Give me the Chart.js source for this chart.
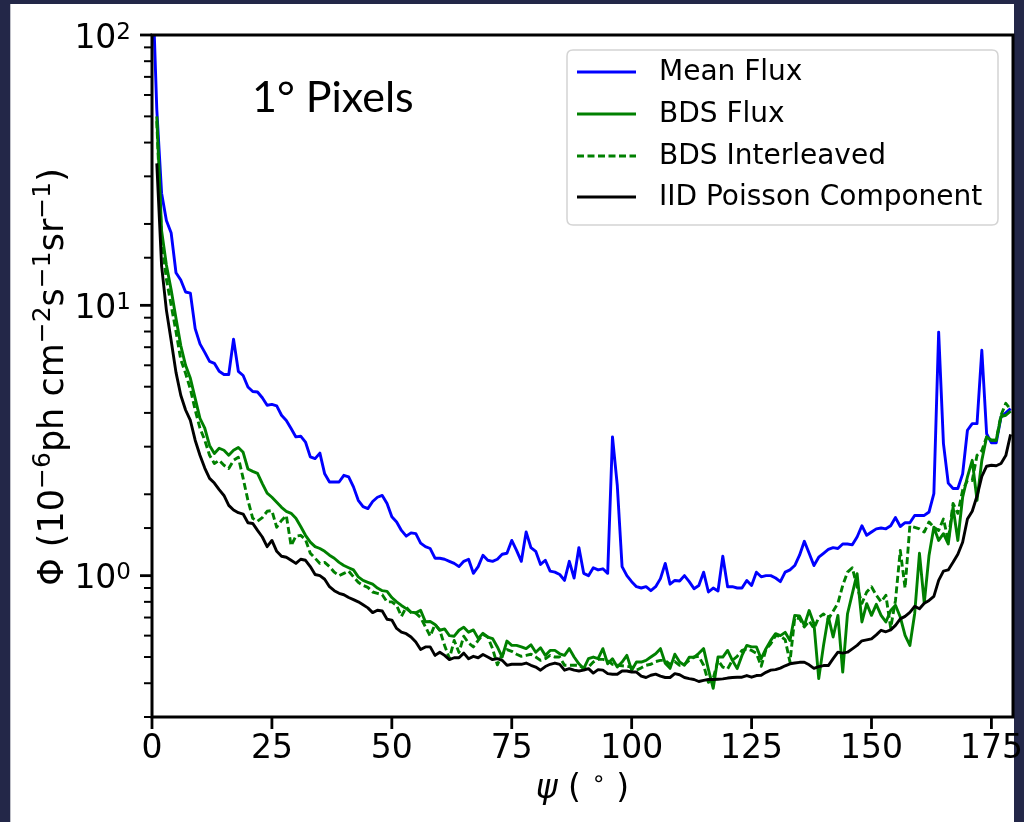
<!DOCTYPE html>
<html><head><meta charset="utf-8">
<script src="https://cdn.jsdelivr.net/npm/chart.js@4.4.1/dist/chart.umd.min.js"></script>
<style>
html,body{margin:0;padding:0;background:#232748;overflow:hidden}
#wrap{position:absolute;left:0;top:0;width:1024px;height:822px}
canvas{display:block}
</style></head><body>
<div id="wrap"><canvas id="c" width="1024" height="822"></canvas></div>
<script>
// psi (degrees), 1° pixels
const psi = [0,1,2,3,4,5,6,7,8,9,10,11,12,13,14,15,16,17,18,19,20,21,22,23,24,25,26,27,28,29,30,31,32,33,34,35,36,37,38,39,40,41,42,43,44,45,46,47,48,49,50,51,52,53,54,55,56,57,58,59,60,61,62,63,64,65,66,67,68,69,70,71,72,73,74,75,76,77,78,79,80,81,82,83,84,85,86,87,88,89,90,91,92,93,94,95,96,97,98,99,100,101,102,103,104,105,106,107,108,109,110,111,112,113,114,115,116,117,118,119,120,121,122,123,124,125,126,127,128,129,130,131,132,133,134,135,136,137,138,139,140,141,142,143,144,145,146,147,148,149,150,151,152,153,154,155,156,157,158,159,160,161,162,163,164,165,166,167,168,169,170,171,172,173,174,175,176,177,178,179];

const meanFlux = [180,53,26,20.6,18.5,13.2,12.4,11.2,11.1,8.2,
7.2,6.7,6.2,6.1,5.7,5.55,5.55,7.5,5.7,5.5,
4.99,4.8,4.78,4.55,4.27,4.3,4.25,3.92,3.75,3.5,
3.26,3.28,3.12,2.75,2.71,2.84,2.38,2.22,2.22,2.22,
2.35,2.32,2.13,1.9,1.8,1.77,1.88,1.95,1.98,1.85,
1.65,1.58,1.47,1.40,1.44,1.43,1.32,1.28,1.26,1.16,
1.16,1.15,1.13,1.11,1.08,1.13,1.15,1.02,1.08,1.19,
1.14,1.13,1.15,1.20,1.21,1.35,1.24,1.13,1.45,1.27,
1.23,1.10,1.14,1.04,1.03,1.01,0.96,1.13,0.98,1.27,
1.02,1.0,1.07,1.05,1.06,1.02,3.26,2.16,1.08,1.0,
0.95,0.91,0.90,0.91,0.88,0.91,0.975,1.11,0.93,0.96,
0.955,1.0,0.95,0.895,0.92,1.03,0.87,0.90,0.877,1.18,
0.91,0.91,0.90,0.90,0.96,0.92,1.03,0.99,1.0,1.0,
0.98,0.95,1.03,1.05,1.09,1.19,1.34,1.21,1.09,1.17,
1.21,1.25,1.27,1.26,1.31,1.31,1.30,1.39,1.53,1.41,
1.45,1.49,1.50,1.49,1.53,1.64,1.52,1.57,1.57,1.67,
1.67,1.67,1.72,2.01,7.96,3.08,2.20,2.10,2.10,2.38,
3.45,3.65,3.65,6.82,3.35,3.10,3.10,3.86,4.0,4.15];

const bdsFlux = [null,50,18.9,14.1,11.4,8.95,7.1,6.0,5.37,4.53,
3.82,3.51,3.03,2.83,2.96,2.91,2.79,2.91,2.98,2.86,
2.48,2.43,2.39,2.19,2.02,1.95,1.87,1.79,1.73,1.70,
1.63,1.52,1.41,1.33,1.28,1.26,1.23,1.19,1.16,1.12,
1.09,1.07,1.05,0.99,0.96,0.945,0.93,0.90,0.88,0.875,
0.83,0.80,0.776,0.755,0.733,0.729,0.744,0.675,0.677,0.66,
0.628,0.635,0.60,0.597,0.628,0.645,0.618,0.63,0.586,0.612,
0.593,0.585,0.545,0.50,0.573,0.552,0.552,0.545,0.537,0.555,
0.521,0.541,0.507,0.529,0.529,0.514,0.507,0.537,0.50,0.472,
0.453,0.493,0.50,0.493,0.537,0.472,0.493,0.459,0.479,0.507,
0.447,0.479,0.479,0.486,0.50,0.514,0.537,0.474,0.454,0.512,
0.479,0.466,0.499,0.499,0.516,0.537,0.45,0.383,0.50,0.50,
0.529,0.486,0.453,0.507,0.552,0.545,0.545,0.493,0.537,0.576,
0.61,0.60,0.617,0.576,0.713,0.71,0.655,0.743,0.664,0.416,
0.552,0.706,0.593,0.713,0.44,0.723,0.858,1.017,0.674,0.788,
0.713,0.783,0.713,0.674,0.743,0.777,0.703,0.601,0.552,0.723,
1.21,0.792,1.19,1.51,1.35,1.43,1.31,1.79,1.35,1.95,
2.32,2.67,1.90,2.67,3.26,3.17,3.17,3.88,3.92,4.06];

const bdsInterleaved = [null,48,17.5,12.5,10.0,8.0,6.3,5.6,4.9,4.1,
3.51,3.17,2.79,2.6,2.67,2.56,2.49,2.67,2.74,2.29,
1.90,1.63,1.59,1.64,1.73,1.74,1.51,1.60,1.67,1.29,
1.40,1.41,1.36,1.21,1.16,1.11,1.12,1.08,1.03,1.0,
1.02,1.04,0.99,0.945,0.92,0.905,0.87,0.86,0.85,0.80,
0.80,0.776,0.707,0.764,0.731,0.727,0.70,0.647,0.597,0.66,
0.628,0.552,0.494,0.576,0.52,0.597,0.563,0.545,0.576,0.606,
0.593,0.537,0.468,0.512,0.533,0.525,0.512,0.503,0.507,0.512,
0.50,0.486,0.493,0.507,0.50,0.50,0.466,0.466,0.466,0.466,
0.454,0.459,0.479,0.49,0.49,0.486,0.47,0.466,0.464,0.462,
0.459,0.447,0.456,0.466,0.47,0.481,0.486,0.486,0.47,0.481,
0.466,0.47,0.486,0.50,0.503,0.466,0.403,0.416,0.486,0.459,
0.452,0.486,0.503,0.529,0.536,0.529,0.516,0.462,0.533,0.56,
0.60,0.597,0.58,0.479,0.70,0.694,0.646,0.68,0.638,0.70,
0.722,0.69,0.738,0.79,0.92,1.03,1.07,0.91,0.79,0.87,
0.91,0.846,0.80,0.846,0.64,0.81,1.24,0.9,1.53,1.51,
1.49,1.45,1.58,1.51,1.47,1.62,1.35,1.85,1.70,2.07,
2.25,2.25,2.79,2.9,3.26,3.17,3.17,3.92,4.34,4.12];

const iidPoisson = [null,33.5,14.0,9.6,7.4,5.65,4.65,4.1,3.75,3.17,
2.79,2.5,2.29,2.2,2.08,1.98,1.82,1.75,1.71,1.69,
1.57,1.56,1.47,1.39,1.28,1.35,1.23,1.18,1.17,1.14,
1.11,1.15,1.14,1.08,1.01,1.0,0.97,0.91,0.88,0.86,
0.85,0.83,0.815,0.80,0.78,0.76,0.73,0.745,0.74,0.69,
0.685,0.638,0.618,0.61,0.593,0.568,0.533,0.545,0.545,0.507,
0.521,0.507,0.489,0.497,0.497,0.517,0.493,0.503,0.497,0.511,
0.50,0.489,0.493,0.486,0.466,0.47,0.47,0.47,0.475,0.466,
0.459,0.447,0.461,0.47,0.475,0.47,0.447,0.453,0.447,0.444,
0.447,0.453,0.436,0.449,0.447,0.434,0.432,0.432,0.444,0.444,
0.44,0.44,0.425,0.42,0.428,0.432,0.425,0.42,0.42,0.434,
0.43,0.42,0.416,0.413,0.406,0.41,0.413,0.413,0.414,0.415,
0.418,0.42,0.421,0.421,0.427,0.421,0.427,0.428,0.439,0.447,
0.449,0.455,0.464,0.472,0.475,0.478,0.478,0.468,0.454,0.461,
0.465,0.465,0.493,0.521,0.517,0.521,0.536,0.552,0.574,0.579,
0.584,0.604,0.628,0.62,0.63,0.655,0.692,0.707,0.731,0.77,
0.754,0.79,0.81,0.838,0.96,1.04,1.05,1.12,1.2,1.33,
1.62,1.73,1.97,2.33,2.54,2.56,2.55,2.6,2.78,3.33];

const xTicks = [0,25,50,75,100,125,150,175];
const yMajorExp = {1:'0', 10:'1', 100:'2'};
const seriesNames = ['Mean Flux','BDS Flux','BDS Interleaved','IID Poisson Component'];
const annotationText = '1\u00b0 Pixels';
// rich-text titles: [text, superscript?, italic?]
const xTitleParts = [['\u03c8',false,true],[' ( ',false,false],['\u2218',true,false],[' )',false,false]];
const yTitleParts = [['\u03a6 (10',false,false],['\u22126',true,false],['ph cm',false,false],['\u22122',true,false],['s',false,false],['\u22121',true,false],['sr',false,false],['\u22121',true,false],[')',false,false]];

function pts(arr){ return psi.map((x,i)=>({x:x,y:arr[i]})); }
function isMajor(v){ const l=Math.log10(v); return Math.abs(l-Math.round(l))<1e-9; }

const FAM='"DejaVu Sans"';
function fontFor(p,base,sup){ return (p[2]?'italic ':'')+(p[1]?sup:base)+'px '+FAM; }
function richWidth(ctx,parts,base,sup){
  let w=0; parts.forEach(p=>{ctx.font=fontFor(p,base,sup); w+=ctx.measureText(p[0]).width;}); return w;
}
function drawRich(ctx,parts,x,y,base,sup,raise){
  let cx=x;
  parts.forEach(p=>{ctx.font=fontFor(p,base,sup); ctx.fillText(p[0],cx,p[1]?y-raise:y); cx+=ctx.measureText(p[0]).width;});
}

const framePlugin = {
  id:'frame',
  beforeDraw(chart){
    const ctx=chart.ctx;
    ctx.save();
    ctx.fillStyle='#232748'; ctx.fillRect(0,0,1024,822);
    ctx.fillStyle='#ffffff'; ctx.fillRect(11,4,1003,818);
    ctx.strokeStyle='#bfc0c8'; ctx.lineWidth=1;
    ctx.beginPath(); ctx.moveTo(10.5,4); ctx.lineTo(10.5,822); ctx.stroke();
    ctx.restore();
  },
  afterDraw(chart){
    const ctx=chart.ctx, a=chart.chartArea;
    const xs=chart.scales.x, ys=chart.scales.y;
    ctx.save();
    ctx.strokeStyle='#000'; ctx.fillStyle='#000';
    ctx.textBaseline='alphabetic';
    // y ticks + labels
    ys.ticks.forEach(t=>{
      const p=ys.getPixelForValue(t.value);
      if(p<a.top-1||p>a.bottom+1) return;
      const maj=isMajor(t.value);
      ctx.lineWidth=maj?2.8:2;
      ctx.beginPath(); ctx.moveTo(a.left-(maj?12:8),p); ctx.lineTo(a.left,p); ctx.stroke();
      const e=yMajorExp[Math.round(t.value)];
      if(maj && e!==undefined){
        ctx.font='23px '+FAM; const ws=ctx.measureText(e).width;
        ctx.font='33px '+FAM; const wb=ctx.measureText('10').width;
        const right=131;
        ctx.textAlign='left';
        ctx.fillText('10',right-ws-wb,p+12.5);
        ctx.font='23px '+FAM;
        ctx.fillText(e,right-ws,p+12.5-9);
      }
    });
    // x ticks + labels
    ctx.textAlign='center';
    xs.ticks.forEach(t=>{
      const p=xs.getPixelForValue(t.value);
      ctx.lineWidth=2.8;
      ctx.beginPath(); ctx.moveTo(p,a.bottom); ctx.lineTo(p,a.bottom+12); ctx.stroke();
      ctx.font='33px '+FAM;
      ctx.fillText(String(t.value),p,758);
    });
    // spines
    ctx.lineWidth=3;
    ctx.strokeRect(a.left,a.top,a.right-a.left,a.bottom-a.top);
    // axis titles
    ctx.textAlign='left';
    const xw=richWidth(ctx,xTitleParts,33,23);
    drawRich(ctx,xTitleParts,(a.left+a.right)/2-xw/2,798,33,23,12);
    ctx.save();
    ctx.translate(63,(a.top+a.bottom)/2+1); ctx.rotate(-Math.PI/2);
    const yw=richWidth(ctx,yTitleParts,35,25);
    drawRich(ctx,yTitleParts,-yw/2,0,35,25,13);
    ctx.restore();
    // annotation
    ctx.font='43px Lato';
    ctx.fillText(annotationText,252,112);
    // legend
    const lx=567, ly=50, lw=431, lh=175, r=6;
    ctx.beginPath();
    ctx.moveTo(lx+r,ly); ctx.lineTo(lx+lw-r,ly); ctx.quadraticCurveTo(lx+lw,ly,lx+lw,ly+r);
    ctx.lineTo(lx+lw,ly+lh-r); ctx.quadraticCurveTo(lx+lw,ly+lh,lx+lw-r,ly+lh);
    ctx.lineTo(lx+r,ly+lh); ctx.quadraticCurveTo(lx,ly+lh,lx,ly+lh-r);
    ctx.lineTo(lx,ly+r); ctx.quadraticCurveTo(lx,ly,lx+r,ly); ctx.closePath();
    ctx.fillStyle='rgba(255,255,255,0.85)'; ctx.fill();
    ctx.strokeStyle='#d4d4d4'; ctx.lineWidth=1.5; ctx.stroke();
    const rows=[72,114,156,197];
    ctx.font='28px '+FAM; ctx.textBaseline='middle';
    chart.data.datasets.forEach((ds,i)=>{
      const y=rows[i];
      ctx.strokeStyle=ds.borderColor; ctx.lineWidth=ds.borderWidth;
      ctx.setLineDash(ds.borderDash||[]);
      ctx.beginPath(); ctx.moveTo(577,y); ctx.lineTo(636,y); ctx.stroke();
      ctx.setLineDash([]);
      ctx.fillStyle='#000';
      ctx.fillText(ds.label,659,y+1);
    });
    ctx.restore();
  }
};

const gridOpts = {display:false};

new Chart(document.getElementById('c'),{
  type:'line',
  data:{datasets:[
    {label:seriesNames[0],data:pts(meanFlux),borderColor:'#0000ff',borderWidth:2.9,order:4},
    {label:seriesNames[1],data:pts(bdsFlux),borderColor:'#008000',borderWidth:2.9,order:3},
    {label:seriesNames[2],data:pts(bdsInterleaved),borderColor:'#008000',borderWidth:2.9,borderDash:[7,3.5],order:2},
    {label:seriesNames[3],data:pts(iidPoisson),borderColor:'#000000',borderWidth:2.9,order:1}
  ]},
  options:{
    responsive:false,devicePixelRatio:1,animation:false,
    layout:{padding:{left:0,top:35,right:11,bottom:0}},
    elements:{point:{radius:0},line:{tension:0,fill:false,borderCapStyle:'butt',borderJoinStyle:'round'}},
    plugins:{legend:{display:false},tooltip:{enabled:false}},
    scales:{
      x:{type:'linear',min:0,max:179.5,
        afterBuildTicks(s){ s.ticks = xTicks.map(v=>({value:v})); },
        ticks:{display:false,autoSkip:false},
        grid:gridOpts,border:{display:false},
        afterFit(s){ s.height=105; s.paddingLeft=0; s.paddingRight=0; }
      },
      y:{type:'logarithmic',min:0.3,max:100,
        ticks:{display:false,autoSkip:false},
        grid:gridOpts,border:{display:false},
        afterFit(s){ s.width=152; s.paddingTop=0; s.paddingBottom=0; }
      }
    }
  },
  plugins:[framePlugin]
});
</script>
</body></html>
